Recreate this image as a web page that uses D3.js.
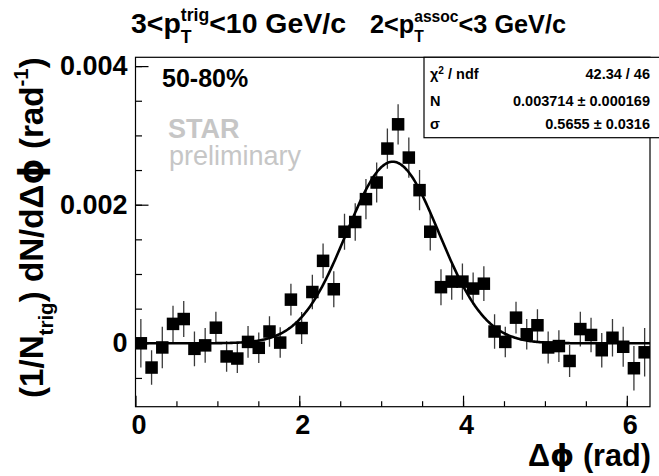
<!DOCTYPE html>
<html>
<head>
<meta charset="utf-8">
<script src="https://cdn.jsdelivr.net/npm/d3@7"></script>
<style>
  body { margin: 0; background: #fff; }
  svg { display: block; }
  text { font-family: "Liberation Sans", Arial, Helvetica, sans-serif; white-space: pre; }
</style>
</head>
<body>
<svg id="chart" width="659" height="476"></svg>
<script>
// Azimuthal correlation, 48 bins over [0, 2pi]
const dphi = [0.0654, 0.1963, 0.3272, 0.4581, 0.5890, 0.7199, 0.8508, 0.9817,
  1.1126, 1.2435, 1.3744, 1.5053, 1.6362, 1.7671, 1.8980, 2.0289,
  2.1598, 2.2907, 2.4216, 2.5525, 2.6834, 2.8143, 2.9452, 3.0761,
  3.2070, 3.3379, 3.4688, 3.5997, 3.7306, 3.8615, 3.9924, 4.1233,
  4.2542, 4.3851, 4.5160, 4.6469, 4.7778, 4.9087, 5.0396, 5.1705,
  5.3014, 5.4323, 5.5632, 5.6941, 5.8250, 5.9559, 6.0868, 6.2177];

const yield_ = [0.0000, -0.00035, -0.00006, 0.00028, 0.00035, -0.00008, -0.00003, 0.000225,
  -0.00019, -0.00022, 0.00002, -0.000065, 0.00017, 0.00001, 0.00063, 0.00022,
  0.00074, 0.00119, 0.00078, 0.00161, 0.00175, 0.00208, 0.00232, 0.00281,
  0.00316, 0.00268, 0.00221, 0.00161, 0.00081, 0.00089, 0.00089, 0.00079,
  0.00086, 0.00017, 0.00002, 0.00037, 0.00013, 0.00026, -0.00006, -0.00004,
  -0.000255, 0.000205, 0.00012, -0.00010, 0.00008, -0.00005, -0.00036, -0.00013];

const yieldErr = [0.00035, 0.00025, 0.00030, 0.00026, 0.00026, 0.00025, 0.00025, 0.00023,
  0.00022, 0.00021, 0.00023, 0.00022, 0.00022, 0.00022, 0.00023, 0.00023,
  0.00025, 0.00025, 0.00026, 0.00026, 0.00027, 0.00029, 0.00029, 0.00029,
  0.00029, 0.00029, 0.00029, 0.00027, 0.00026, 0.00026, 0.00026, 0.00023,
  0.00025, 0.00025, 0.00022, 0.00023, 0.00022, 0.00023, 0.00023, 0.00023,
  0.00023, 0.00025, 0.00025, 0.00025, 0.00027, 0.00029, 0.00032, 0.00035];

// Gaussian fit centred at pi
const fitN = 0.003714, fitNErr = 0.000169;
const fitSigma = 0.5655, fitSigmaErr = 0.0316;
const chi2 = 42.34, ndf = 46;

const xTicksMajor = [0, 2, 4, 6];
const yTicksMajor = [0, 0.002, 0.004];
const yTickLabels = ["0", "0.002", "0.004"];

const svg = d3.select("#chart");
const frame = { left: 135.5, right: 650, top: 57.3, bottom: 406.7 };

const x = d3.scaleLinear().domain([0, 2 * Math.PI]).range([frame.left, frame.right]);
const y = d3.scaleLinear().domain([-0.000915, 0.004127]).range([frame.bottom, frame.top]);

// Frame
svg.append("rect")
  .attr("x", frame.left).attr("y", frame.top)
  .attr("width", frame.right - frame.left).attr("height", frame.bottom - frame.top)
  .attr("fill", "none").attr("stroke", "#000").attr("stroke-width", 1.2);

// Axes: ticks point inward
const yMinor = svg.append("g").attr("transform", `translate(${frame.left},0)`)
  .call(d3.axisLeft(y).tickValues(d3.range(-0.0005, 0.0041, 0.0005)).tickSize(-6.5).tickFormat(""));
const yMajor = svg.append("g").attr("transform", `translate(${frame.left},0)`)
  .call(d3.axisLeft(y).tickValues(yTicksMajor).tickSize(-13).tickPadding(8)
    .tickFormat((d, i) => yTickLabels[i]));
const xMinor = svg.append("g").attr("transform", `translate(0,${frame.bottom})`)
  .call(d3.axisBottom(x).tickValues(d3.range(0.5, 6.3, 0.5)).tickSize(-5.5).tickFormat(""));
const xMajor = svg.append("g").attr("transform", `translate(0,${frame.bottom})`)
  .call(d3.axisBottom(x).tickValues(xTicksMajor).tickSize(-11).tickPadding(8).tickFormat(d3.format("d")));

for (const g of [yMinor, yMajor, xMinor, xMajor]) {
  g.select(".domain").remove();
  g.selectAll("line").attr("stroke", "#000").attr("stroke-width", 1.2);
  g.selectAll("text").attr("fill", "#000")
    .style("font-size", "27px").style("font-weight", "bold")
    .style("font-family", "'Liberation Sans', Arial, sans-serif");
}
xMajor.selectAll("text").attr("dx", 3);

// Plot content clipped to the frame
svg.append("clipPath").attr("id", "plotClip").append("rect")
  .attr("x", frame.left).attr("y", frame.top)
  .attr("width", frame.right - frame.left).attr("height", frame.bottom - frame.top);
const plot = svg.append("g").attr("clip-path", "url(#plotClip)");

// Error bars
const pts = dphi.map((d, i) => ({ x: d, y: yield_[i], e: yieldErr[i] }));
plot.append("g").selectAll("line").data(pts).join("line")
  .attr("x1", d => x(d.x)).attr("x2", d => x(d.x))
  .attr("y1", d => y(d.y - d.e)).attr("y2", d => y(d.y + d.e))
  .attr("stroke", "#3a3a3a").attr("stroke-width", 1.3);

// Fit curve
const gaus = t => fitN / (Math.sqrt(2 * Math.PI) * fitSigma) *
  Math.exp(-0.5 * Math.pow((t - Math.PI) / fitSigma, 2));
const curveX = d3.range(0, 2 * Math.PI + 0.001, 2 * Math.PI / 400);
plot.append("path")
  .datum(curveX)
  .attr("d", d3.line().x(t => x(t)).y(t => y(gaus(t))))
  .attr("fill", "none").attr("stroke", "#000").attr("stroke-width", 2.6);

// Markers
const ms = 12.5;
plot.append("g").selectAll("rect").data(pts).join("rect")
  .attr("x", d => x(d.x) - ms / 2).attr("y", d => y(d.y) - ms / 2)
  .attr("width", ms).attr("height", ms).attr("fill", "#000");

// Text with stacked sub/superscripts
function scriptText(parent, pieces, size, weight, fill) {
  const g = parent.append("g");
  let cx = 0;
  for (const p of pieces) {
    if (p.sub !== undefined || p.sup !== undefined) {
      let w = 0;
      if (p.sup !== undefined) {
        const t = g.append("text").attr("x", cx).attr("y", -(p.supShift || 0.42) * size)
          .style("font-size", (p.scale || 0.62) * size + "px").style("font-weight", weight)
          .attr("fill", fill).text(p.sup);
        w = Math.max(w, t.node().getComputedTextLength());
      }
      if (p.sub !== undefined) {
        const t = g.append("text").attr("x", cx).attr("y", (p.subShift || 0.36) * size)
          .style("font-size", (p.scale || 0.62) * size + "px").style("font-weight", weight)
          .attr("fill", fill).text(p.sub);
        w = Math.max(w, t.node().getComputedTextLength());
      }
      cx += w;
    } else {
      const t = g.append("text").attr("x", cx).attr("y", 0)
        .style("font-size", size + "px").style("font-weight", weight)
        .attr("fill", fill).text(p.t);
      if (p.font) t.style("font-family", p.font);
      cx += t.node().getComputedTextLength();
    }
  }
  return { g, width: cx };
}
function fittedScript(parent, pieces, size, weight, fill, target) {
  const probe = scriptText(parent, pieces, size, weight, fill);
  const s = size * target / probe.width;
  probe.g.remove();
  return scriptText(parent, pieces, s, weight, fill);
}

const PHI = { t: "\u03d5", font: "'DejaVu Sans', sans-serif" };

// Title
const t1 = fittedScript(svg, [{ t: "3<p" }, { sub: "T", sup: "trig" }, { t: "<10 GeV/c" }], 22, "bold", "#000", 215);
t1.g.attr("transform", "translate(131,33)");
const t2 = fittedScript(svg, [{ t: "2<p" }, { sub: "T", sup: "assoc" }, { t: "<3 GeV/c" }], 22, "bold", "#000", 196);
t2.g.attr("transform", "translate(370,33)");

// Y axis title (rotated)
const yt = fittedScript(svg, [{ t: "(1/N" }, { sub: "trig", subShift: 0.3 }, { t: ") dN/d\u0394" }, PHI, { t: " (rad" },
  { sup: "-1", supShift: 0.45 }, { t: ")" }], 30, "bold", "#000", 341);
yt.g.attr("transform", "translate(43,398) rotate(-90)");

// X axis title
const xt = fittedScript(svg, [{ t: "\u0394" }, PHI, { t: " (rad)" }], 30, "bold", "#000", 123);
xt.g.attr("transform", "translate(528,466)");

// Centrality and watermark
svg.append("text").attr("x", 162).attr("y", 87).style("font-size", "25px").style("font-weight", "bold")
  .attr("fill", "#000").text("50-80%");
svg.append("text").attr("x", 168).attr("y", 138).style("font-size", "27px").style("font-weight", "bold")
  .attr("fill", "#c6c6c6").text("STAR");
svg.append("text").attr("x", 169).attr("y", 165).style("font-size", "27px")
  .attr("fill", "#c6c6c6").text("preliminary");

// Fit statistics box
const box = { left: 424, top: frame.top, right: 662, bottom: 137.7 };
svg.append("rect").attr("x", box.left).attr("y", box.top)
  .attr("width", box.right - box.left).attr("height", box.bottom - box.top)
  .attr("fill", "#fff").attr("stroke", "#000").attr("stroke-width", 1.2);
const statRows = [
  { label: [{ t: "\u03c7" }, { sup: "2", supShift: 0.38, scale: 0.7 }, { t: " / ndf" }],
    value: `${chi2.toFixed(2)} / ${ndf}`, base: 79 },
  { label: [{ t: "N" }], value: `${fitN.toFixed(6)} \u00b1 ${fitNErr.toFixed(6)}`, base: 106 },
  { label: [{ t: "\u03c3" }], value: `${fitSigma.toFixed(4)} \u00b1 ${fitSigmaErr.toFixed(4)}`, base: 128.5 }
];
const statSize = 14.5;
for (const r of statRows) {
  const l = scriptText(svg, r.label, statSize, "bold", "#000");
  l.g.attr("transform", `translate(430,${r.base})`);
  svg.append("text").attr("x", 650).attr("y", r.base).attr("text-anchor", "end")
    .style("font-size", statSize + "px").style("font-weight", "bold").attr("fill", "#000").text(r.value);
}
</script>
</body>
</html>
